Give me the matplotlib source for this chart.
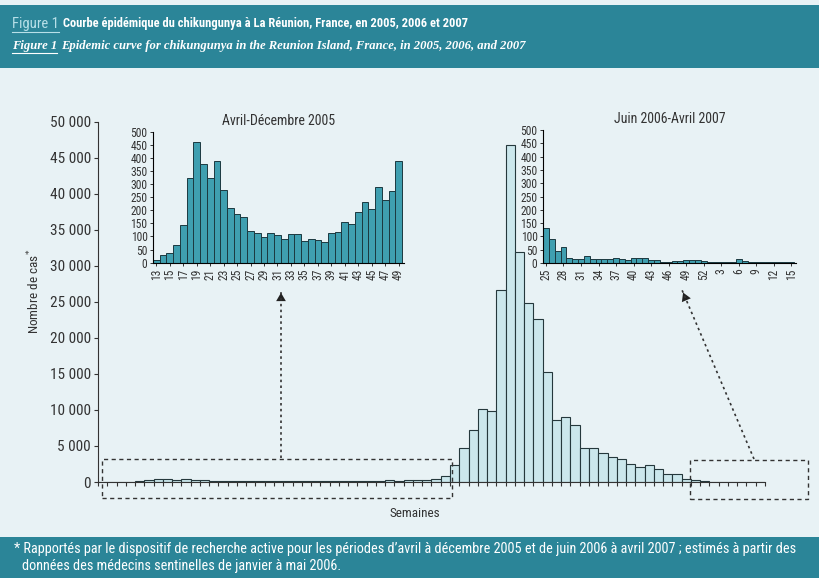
import numpy as np
import matplotlib
matplotlib.use("Agg")
import matplotlib.pyplot as plt
from matplotlib import font_manager
from matplotlib.patches import Rectangle, FancyArrowPatch
from matplotlib.lines import Line2D

# weekly cases, Apr-Dec 2005 (weeks 13-49)
weeks_2005 = list(range(13, 50))
cases_2005 = [10, 28, 36, 66, 145, 325, 460, 378, 325, 390, 276, 210, 185, 175, 122,
              112, 97, 115, 106, 89, 109, 109, 84, 92, 87, 79, 115, 117, 156, 146,
              192, 233, 204, 290, 239, 274, 390]

# weekly cases, Jun 2006 - Apr 2007 (week 25 2006 to week 15 2007)
weeks_0607 = list(range(25, 53)) + list(range(1, 16))
cases_0607 = [130, 90, 45, 60, 20, 15, 15, 25, 15, 15, 15, 15, 20, 15, 12,
              18, 18, 18, 10, 10, 3, 3, 8, 8, 12, 12, 12, 8,
              5, 5, 5, 5, 5, 15, 8, 3, 5, 3, 2, 2, 2, 3, 2]

# main curve: week 13 2005 onwards
cases_main = cases_2005 + [800, 2300, 4650, 7280, 10120, 9800, 26600, 46800, 31900,
                           24900, 22600, 15200, 8560, 9020, 7870, 4650, 4650, 3960,
                           3500, 3180, 2490, 2030, 2350, 1800, 1100, 1100, 350, 300,
                           90, 45, 60, 20, 15, 15, 25]

W, H = 819, 578
BG = "#e8f2f5"
TEAL = "#2b8598"
INK = "#333333"

# pick a narrow sans if one is around
fams = {f.name for f in font_manager.fontManager.ttflist}
SANS = ["Roboto", "DejaVu Sans"]
k = 0.82
for name in ("Liberation Sans Narrow", "Roboto Condensed", "Open Sans Condensed",
             "Noto Sans Condensed"):
    if name in fams:
        SANS = [name, "DejaVu Sans"]
        k = 1.0
        break
SERIF = dict(family=["Liberation Serif", "DejaVu Serif"])


def ff(x, y):
    # pixel position in the figure -> figure fraction
    return x / W, 1 - y / H


def ax_rect(x0, y0, x1, y1):
    return [x0 / W, 1 - y1 / H, (x1 - x0) / W, (y1 - y0) / H]


plt.rcParams['font.family'] = SANS
fig = plt.figure(figsize=(W / 100, H / 100), dpi=100, facecolor=BG)

# header and footer bands
fig.patches.append(Rectangle(ff(0, 68), 1, 63 / H, transform=fig.transFigure,
                             facecolor=TEAL, edgecolor="none", zorder=0))
fig.patches.append(Rectangle(ff(0, 578), 1, 41 / H, transform=fig.transFigure,
                             facecolor=TEAL, edgecolor="none", zorder=0))

t1 = fig.text(*ff(12, 24), "Figure 1", color="#b8e0e8", fontsize=10.5 * k, va="center")
t2 = fig.text(*ff(12, 46), "Figure 1", color="white", fontsize=9.1, va="center",
              style="italic", weight="bold", **SERIF)
fig.canvas.draw()
r = fig.canvas.get_renderer()
for t in (t1, t2):
    bb = t.get_window_extent(r)
    fig.add_artist(Line2D([bb.x0 / W, bb.x1 / W], [(bb.y0 - 1) / H] * 2,
                          color=t.get_color(), lw=0.8))
fig.text((t1.get_window_extent(r).x1 + 4) / W, 1 - 24 / H,
         "Courbe épidémique du chikungunya à La Réunion, France, en 2005, 2006 et 2007",
         color="white", fontsize=9.0 * k, weight="bold", va="center")
fig.text((t2.get_window_extent(r).x1 + 4) / W, 1 - 46 / H,
         "Epidemic curve for chikungunya in the Reunion Island, France, in 2005, 2006, and 2007",
         color="white", fontsize=9.1, weight="bold", style="italic", va="center", **SERIF)

fig.text(*ff(14, 549), "* Rapportés par le dispositif de recherche active pour les périodes d’avril à décembre 2005 et de juin 2006 à avril 2007 ; estimés à partir des",
         color="white", fontsize=10.3 * k, va="center")
fig.text(*ff(22, 566), "données des médecins sentinelles de janvier à mai 2006.",
         color="white", fontsize=10.3 * k, va="center")

# main chart
ax = fig.add_axes(ax_rect(98, 121.7, 765, 482))
ax.set_facecolor("none")
x = np.arange(len(cases_main))
ax.bar(x, cases_main, width=1, align="edge", color="#cbe7ec", edgecolor="#25383c", linewidth=0.8)
ax.set_xlim(0, 72)
ax.set_ylim(0, 50000)
yt = np.arange(0, 50001, 5000)
ax.set_yticks(yt)
ax.set_yticklabels([f"{v:,}".replace(",", " ") for v in yt], fontsize=11 * k, color=INK)
ax.set_xticks(np.arange(0, 73))
ax.set_xticklabels([])
ax.tick_params(length=3, width=0.8, color=INK, pad=2)
for s in ("top", "right"):
    ax.spines[s].set_visible(False)
for s in ("left", "bottom"):
    ax.spines[s].set_color(INK)
ax.set_ylabel("Nombre de cas$^{*}$", fontsize=9.5 * k, color=INK)
ax.yaxis.set_label_coords(-0.084, 0.53)
ax.set_xlabel("Semaines", fontsize=9.5 * k, color=INK)
ax.xaxis.set_label_coords(0.475, -0.068)


def inset(rect, weeks, cases, step, title):
    a = fig.add_axes(rect)
    a.set_facecolor("none")
    a.bar(np.arange(len(cases)), cases, width=1, align="edge",
          color="#3f9fb0", edgecolor="#1c3940", linewidth=0.7)
    a.set_xlim(0, len(cases) + 0.3)
    a.set_ylim(0, 500)
    a.set_yticks(np.arange(0, 501, 50))
    a.set_xticks(np.arange(0, len(cases), step) + 0.5)
    a.set_xticklabels([str(w) for w in weeks[::step]], rotation=90)
    a.tick_params(labelsize=8.3 * k, length=2.5, width=0.7, pad=1.5, colors=INK)
    for s in ("top", "right"):
        a.spines[s].set_visible(False)
    a.set_title(title, fontsize=10 * k, color=INK, pad=5)
    return a


inset(ax_rect(153, 131.7, 404, 262.7), weeks_2005, cases_2005, 2, "Avril-Décembre 2005")
inset(ax_rect(543, 130, 796, 263), weeks_0607, cases_0607, 3, "Juin 2006-Avril 2007")

# dashed boxes and dotted arrows
for (x0, y0, x1, y1) in [(102, 459, 452, 498), (690, 460, 808, 499)]:
    fig.patches.append(Rectangle(ff(x0, y1), (x1 - x0) / W, (y1 - y0) / H,
                                 transform=fig.transFigure, fill=False,
                                 edgecolor=INK, lw=1, linestyle=(0, (3, 2.5))))
for (tail, head) in [((281, 458), (281, 290)), ((754, 459), (682, 290))]:
    fig.add_artist(Line2D([tail[0] / W, head[0] / W], [1 - tail[1] / H, 1 - head[1] / H],
                          color=INK, lw=1.2, linestyle=(0, (1.5, 2))))
    d = np.array(head) - np.array(tail)
    d = d / np.hypot(*d)
    start = np.array(head) - d * 9
    fig.add_artist(FancyArrowPatch(ff(*start), ff(*head), transform=fig.transFigure,
                                   arrowstyle="-|>,head_length=6,head_width=3.5",
                                   color="#222", lw=0))

fig.savefig("out.png", dpi=100, facecolor=BG)
